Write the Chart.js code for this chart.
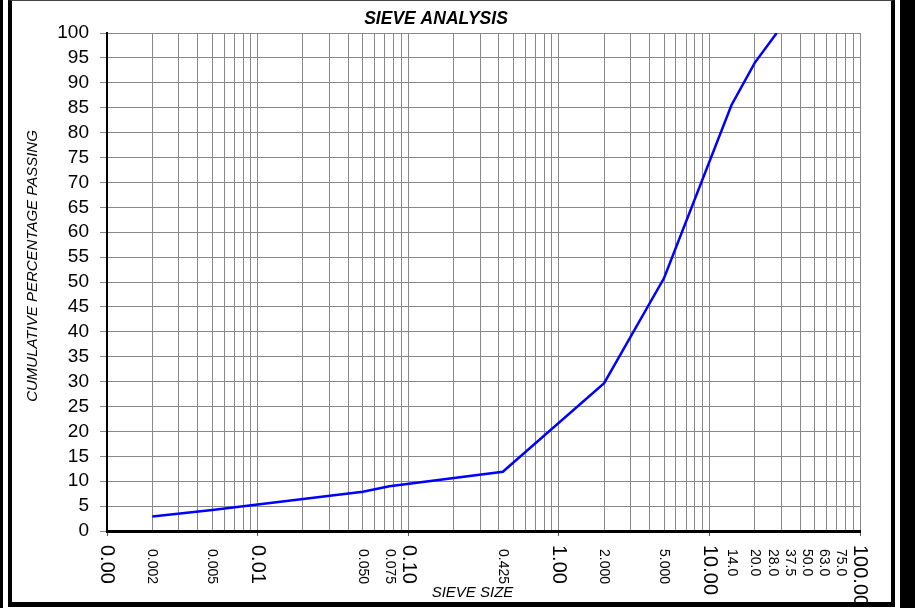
<!DOCTYPE html>
<html>
<head>
<meta charset="utf-8">
<script src="https://cdn.jsdelivr.net/npm/chart.js@4"></script>
<style>
  body { margin: 0; background: #fff; }
  #page { position: relative; width: 915px; height: 608px; overflow: hidden; }
  #barLeft { position: absolute; left: 0; top: 0; width: 3px; height: 608px; background: #000; }
  #barRight { position: absolute; left: 900px; top: 0; width: 15px; height: 608px; background: #000; }
  #box {
    position: absolute; left: 8px; top: 0; width: 879px; height: 601px;
    border-left: 4px solid #000; border-right: 4px solid #000;
    border-top: 1px solid #444; border-bottom: 5px solid #000;
  }
  canvas { display: block; }
</style>
</head>
<body>
<div id="page">
  <div id="barLeft"></div>
  <div id="barRight"></div>
  <div id="box"><canvas id="myChart" width="879" height="601"></canvas></div>
</div>
<script>
// sieve data (mm, % passing)
const sieveSizes = [0.002, 0.005, 0.05, 0.075, 0.425, 2, 5, 14, 20, 28];
const passing = [2.9, 4.2, 7.9, 9.0, 11.9, 29.7, 50.8, 85.5, 94.0, 100];

// labels under the x axis
const decadeValues = [0.001, 0.01, 0.1, 1, 10, 100];
const decadeLabels = ['0.00', '0.01', '0.10', '1.00', '10.00', '100.00'];
const labelSizes = [0.002, 0.005, 0.05, 0.075, 0.425, 2, 5, 14, 20, 28, 37.5, 50, 63, 75];
const sizeLabels = ['0.002', '0.005', '0.050', '0.075', '0.425', '2.000', '5.000', '14.0', '20.0', '28.0', '37.5', '50.0', '63.0', '75.0'];

const yMin = 0, yMax = 100, yStep = 5;
const chartTitle = 'SIEVE ANALYSIS';
const xTitle = 'SIEVE SIZE';
const yTitle = 'CUMULATIVE PERCENTAGE PASSING';

const FONT = "'Liberation Sans', Arial, sans-serif";
const GRID = '#888';
const MIN_GAP = 17; // keep small rotated labels from running into each other

// grid lines at 1..9 of every decade
const gridValues = [];
for (let e = -3; e <= 1; e++) {
    for (let m = 1; m <= 9; m++) gridValues.push(+(m * Math.pow(10, e)).toPrecision(3));
}
gridValues.push(100);

const isDecade = v => decadeValues.some(d => Math.abs(d - v) / d < 1e-6);

const sieveLabelsPlugin = {
    id: 'sieveLabels',
    afterDraw(chart) {
        const ctx = chart.ctx;
        const xs = chart.scales.x;
        const ys = chart.scales.y;
        const area = chart.chartArea;
        ctx.save();
        ctx.fillStyle = '#000';
        ctx.textAlign = 'left';
        ctx.textBaseline = 'middle';

        // rotated tick labels, reading downwards
        const drawDown = (px, text, font, gap) => {
            ctx.save();
            ctx.translate(px, xs.top + gap);
            ctx.rotate(Math.PI / 2);
            ctx.font = font;
            ctx.fillText(text, 0, 0);
            ctx.restore();
        };
        decadeValues.forEach((v, i) => drawDown(xs.getPixelForValue(v), decadeLabels[i], '20px ' + FONT, 14));

        // push crowded labels leftwards, starting from the right end of the axis
        const pos = labelSizes.map(v => xs.getPixelForValue(v));
        let limit = xs.right;
        for (let i = pos.length - 1; i >= 0; i--) {
            pos[i] = Math.min(pos[i], limit - MIN_GAP);
            limit = pos[i];
        }
        pos.forEach((px, i) => drawDown(px, sizeLabels[i], '14px ' + FONT, 18));

        // axis titles
        ctx.font = 'italic 15px ' + FONT;
        ctx.textAlign = 'center';
        ctx.fillText(xTitle, (area.left + area.right) / 2 - 11, xs.top + 62);

        ctx.save();
        ctx.translate(ys.left + 21, (area.top + area.bottom) / 2 - 16);
        ctx.rotate(-Math.PI / 2);
        ctx.fillText(yTitle, 0, 0);
        ctx.restore();

        ctx.restore();
    }
};

const ctx = document.getElementById('myChart').getContext('2d');
const chart = new Chart(ctx, {
    type: 'line',
    data: {
        datasets: [{
            label: 'Passing',
            data: sieveSizes.map((s, i) => ({x: s, y: passing[i]})),
            borderColor: '#0000ff',
            borderWidth: 2.5,
            pointRadius: 0,
            tension: 0,
            fill: false
        }]
    },
    options: {
        responsive: false,
        animation: false,
        layout: {padding: {left: 0, right: 31, top: 0, bottom: 0}},
        plugins: {
            legend: {display: false},
            tooltip: {enabled: false},
            title: {
                display: true,
                text: chartTitle,
                color: '#000',
                font: {family: FONT, size: 17.5, weight: 'bold', style: 'italic', lineHeight: 1},
                padding: {top: 9, bottom: 5.5}
            }
        },
        scales: {
            x: {
                type: 'logarithmic',
                min: 0.001,
                max: 100,
                afterBuildTicks: scale => {
                    scale.ticks = gridValues.map(v => ({value: v}));
                },
                afterFit: scale => { scale.height = 71; },
                ticks: {display: false},
                grid: {
                    color: GRID,
                    lineWidth: 1,
                    drawTicks: true,
                    tickLength: 5,
                    tickColor: c => (c.tick && isDecade(c.tick.value)) ? '#555' : 'rgba(0,0,0,0)'
                },
                border: {color: '#000', width: 3}
            },
            y: {
                min: yMin,
                max: yMax,
                afterFit: scale => { scale.width = 95; },
                ticks: {
                    stepSize: yStep,
                    autoSkip: false,
                    color: '#000',
                    padding: 11,
                    font: {family: FONT, size: 19}
                },
                grid: {color: GRID, lineWidth: 1, tickLength: 7, tickColor: GRID},
                border: {color: '#000', width: 2}
            }
        }
    },
    plugins: [sieveLabelsPlugin]
});
</script>
</body>
</html>
